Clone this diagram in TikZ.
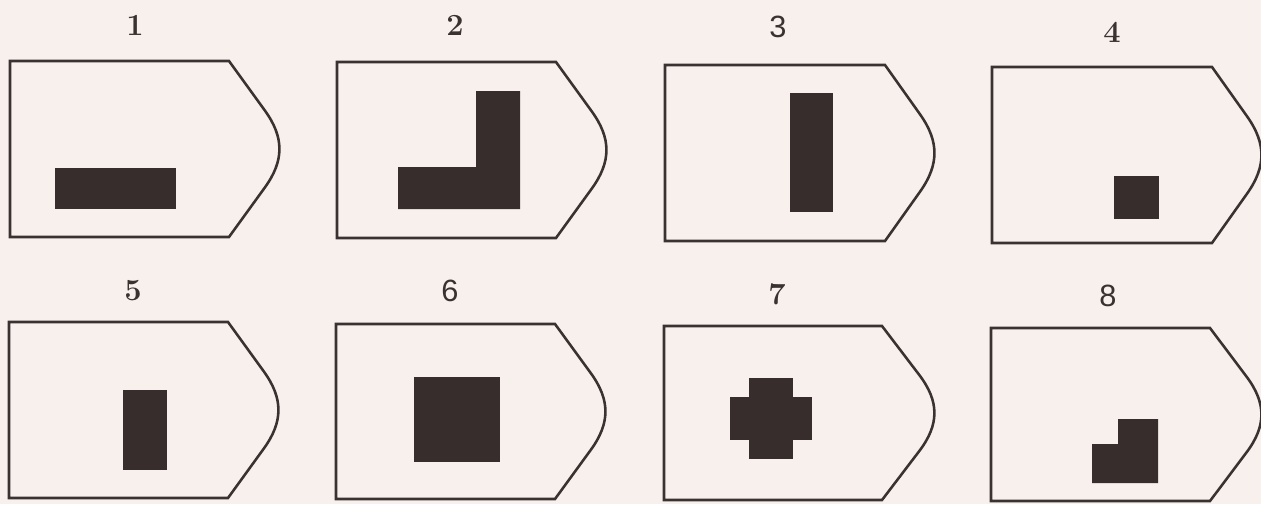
\documentclass[tikz,border=0pt]{standalone}
\usepackage{fontspec}
\newfontfamily\sansdig{Liberation Sans}
\definecolor{paper}{HTML}{F8F0EC}
\definecolor{ink}{HTML}{3A3131}
\definecolor{blk}{HTML}{372D2D}
\tikzset{
  outline/.style={draw=ink, line width=1.45pt, line join=miter},
  blob/.style={fill=blk, draw=none},
  serifnum/.style={font=\bfseries\fontsize{17.5}{20}\selectfont, text=ink, inner sep=0pt},
  sansnum/.style={font=\sansdig\fontsize{17.5}{20}\selectfont, text=ink, inner sep=0pt}
}
\newcommand{\tagpanel}[5]{%
  \draw[outline] (#1,#2) -- (#4,#2) -- ({#4+0.70*(#5-#4)},{#2+0.28*(#3-#2)})
   .. controls ({#4+1.085*(#5-#4)},{#2+0.434*(#3-#2)}) and ({#4+1.085*(#5-#4)},{#3-0.434*(#3-#2)})
   .. ({#4+0.70*(#5-#4)},{#3-0.28*(#3-#2)}) -- (#4,#3) -- (#1,#3) -- cycle;}
\begin{document}
\begin{tikzpicture}[x=0.02cm,y=-0.02cm]
\useasboundingbox (0,0) rectangle (1261,504);
\fill[paper] (0,0) rectangle (1261,504);
\begin{scope}
\clip (0,0) rectangle (1261,504);
% row 1
\tagpanel{10}{61}{237}{229}{280}
\tagpanel{337}{62}{238}{556}{607}
\tagpanel{665}{65}{241}{885}{935}
\tagpanel{992}{67}{243}{1212}{1262}
% row 2
\tagpanel{9}{322}{498}{228}{279}
\tagpanel{336}{324}{499}{555}{606}
\tagpanel{664}{326}{500}{882}{935}
\tagpanel{991}{328}{501}{1210}{1262}
\end{scope}
% figures
\fill[blob] (55,168) rectangle (176,209);
\fill[blob] (398,167) -- (476,167) -- (476,91) -- (520,91) -- (520,209) -- (398,209) -- cycle;
\fill[blob] (790,93) rectangle (833,212);
\fill[blob] (1114,176) rectangle (1159,219);
\fill[blob] (123,390) rectangle (167,470);
\fill[blob] (414,377) rectangle (500,462);
\fill[blob] (730,397) rectangle (812,440);
\fill[blob] (749,378) rectangle (793,459);
\fill[blob] (1092,444) -- (1118,444) -- (1118,419) -- (1158,419) -- (1158,483) -- (1092,483) -- cycle;
% labels
\node[serifnum] (n1) at (135,25) {1};
\node[serifnum] (n2) at (455,25) {2};
\node[sansnum]  (n3) at (778,27) {3};
\node[serifnum] (n4) at (1112,32) {4};
\node[serifnum] (n5) at (133,291) {5};
\node[sansnum]  (n6) at (450,291) {6};
\node[serifnum] (n7) at (777,294) {7};
\node[sansnum]  (n8) at (1108,296) {8};
\end{tikzpicture}
\end{document}
